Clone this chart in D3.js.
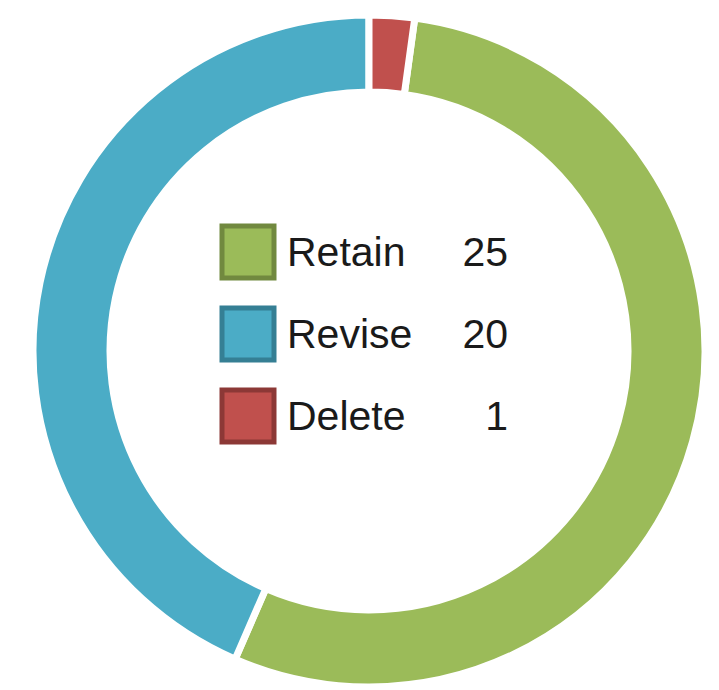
<!DOCTYPE html>
<html>
<head>
<meta charset="utf-8">
<script src="https://cdn.jsdelivr.net/npm/d3@7"></script>
<style>
  body { margin: 0; background: #fff; }
  text { font-family: "Liberation Sans", Arial, sans-serif; fill: #1a1a1a; }
</style>
</head>
<body>
<script>
var categories = ["Retain", "Revise", "Delete"];
var values = [25, 20, 1];
var colors = ["#9BBB59", "#4BACC6", "#C0504D"];
var borders = ["#71893F", "#357F94", "#8C3836"];

var width = 719;
var height = 690;
var cx = 369, cy = 351;
var outerR = 336, innerR = 259;

var svg = d3.select("body").append("svg")
    .attr("width", width)
    .attr("height", height);

var data = categories.map(function(c, i){
    return {name: c, value: values[i]};
});
var total = d3.sum(values);

// Delete slice sits at 12 o'clock, Retain follows clockwise
var start = 2 * Math.PI * values[2] / total;

var pie = d3.pie()
    .sort(null)
    .value(function(d){ return d.value; })
    .startAngle(start)
    .endAngle(start + 2 * Math.PI);

var arc = d3.arc()
    .innerRadius(innerR)
    .outerRadius(outerR);

var g = svg.append("g")
    .attr("transform", "translate(" + cx + "," + cy + ")");

g.selectAll("path")
    .data(pie(data))
    .enter()
    .append("path")
    .attr("d", arc)
    .attr("fill", function(d, i){ return colors[i]; })
    .attr("stroke", "#fff")
    .attr("stroke-width", 7);

// legend in the hole
var yLeg = d3.scalePoint()
    .domain(categories)
    .range([252, 416]);

var legend = svg.append("g")
    .selectAll("g")
    .data(data)
    .enter()
    .append("g")
    .attr("transform", function(d){ return "translate(0," + yLeg(d.name) + ")"; });

legend.append("rect")
    .attr("x", 222)
    .attr("y", -26)
    .attr("width", 52)
    .attr("height", 52)
    .attr("fill", function(d, i){ return colors[i]; })
    .attr("stroke", function(d, i){ return borders[i]; })
    .attr("stroke-width", 5);

legend.append("text")
    .attr("x", 287)
    .attr("y", 14)
    .attr("font-size", 41)
    .text(function(d){ return d.name; });

legend.append("text")
    .attr("x", 508)
    .attr("y", 14)
    .attr("font-size", 41)
    .attr("text-anchor", "end")
    .text(function(d){ return d.value; });
</script>
</body>
</html>
